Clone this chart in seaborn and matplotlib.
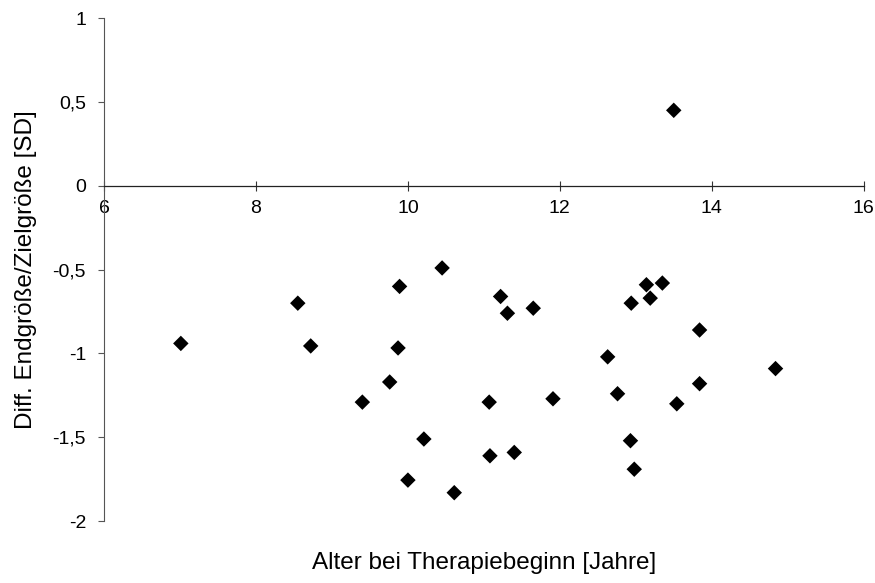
import matplotlib
matplotlib.use("Agg")
import matplotlib.pyplot as plt
import seaborn as sns
import pandas as pd
from matplotlib.ticker import FuncFormatter

# Age at start of therapy (years) and difference final height / target height (SD)
alter = [7.01, 8.55, 8.72, 9.40, 9.76, 9.87, 9.89, 10.21, 10.00, 10.45, 10.61,
         11.22, 11.31, 11.65, 12.63, 11.07, 11.91, 12.76, 11.08, 11.40, 12.93,
         12.98, 12.94, 13.14, 13.19, 13.35, 13.54, 13.84, 13.84, 14.84, 13.50]
diff_sd = [-0.94, -0.70, -0.955, -1.29, -1.17, -0.967, -0.60, -1.51, -1.755, -0.49, -1.83,
           -0.66, -0.76, -0.73, -1.02, -1.29, -1.27, -1.24, -1.61, -1.59, -1.52,
           -1.69, -0.70, -0.59, -0.67, -0.58, -1.30, -0.86, -1.18, -1.09, 0.45]

x_ticks = [6, 8, 10, 12, 14, 16]
y_ticks = [-2, -1.5, -1, -0.5, 0, 0.5, 1]

df = pd.DataFrame({"Alter": alter, "Diff": diff_sd})

sns.set_style("white")
plt.rcParams["font.family"] = ["Liberation Sans", "DejaVu Sans"]

fig = plt.figure(figsize=(8.75, 5.83), dpi=100)
ax = fig.add_axes([0.119, 0.106, 0.868, 0.863])

sns.scatterplot(data=df, x="Alter", y="Diff", marker="D", s=62, color="black",
                edgecolor="none", linewidth=0, ax=ax, zorder=3)

ax.set_xlim(6, 16)
ax.set_ylim(-2, 1)
ax.set_xticks(x_ticks)
ax.set_yticks(y_ticks)

fmt = FuncFormatter(lambda v, p: ("%g" % v).replace(".", ","))
ax.yaxis.set_major_formatter(fmt)
ax.xaxis.set_major_formatter(fmt)

for s in ("top", "right"):
    ax.spines[s].set_visible(False)
ax.spines["bottom"].set_position(("data", 0))
ax.spines["bottom"].set_color("#222222")
ax.spines["left"].set_color("#555555")
ax.spines["bottom"].set_linewidth(0.9)
ax.spines["left"].set_linewidth(0.8)

ax.tick_params(axis="x", bottom=True, direction="inout", length=7, width=0.8,
               colors="#333333", labelcolor="black", labelsize=14, pad=7)
ax.tick_params(axis="y", left=True, direction="out", length=4, width=0.8,
               colors="#555555", labelcolor="black", labelsize=14, pad=9)

ax.set_xlabel("Alter bei Therapiebeginn [Jahre]", fontsize=17.5, color="black")
ax.set_ylabel("Diff. Endgröße/Zielgröße [SD]", fontsize=17.5, color="black")
ax.xaxis.set_label_coords(0.5, -0.062)
ax.yaxis.set_label_coords(-0.089, 0.5)

fig.savefig("out.png", dpi=100)
